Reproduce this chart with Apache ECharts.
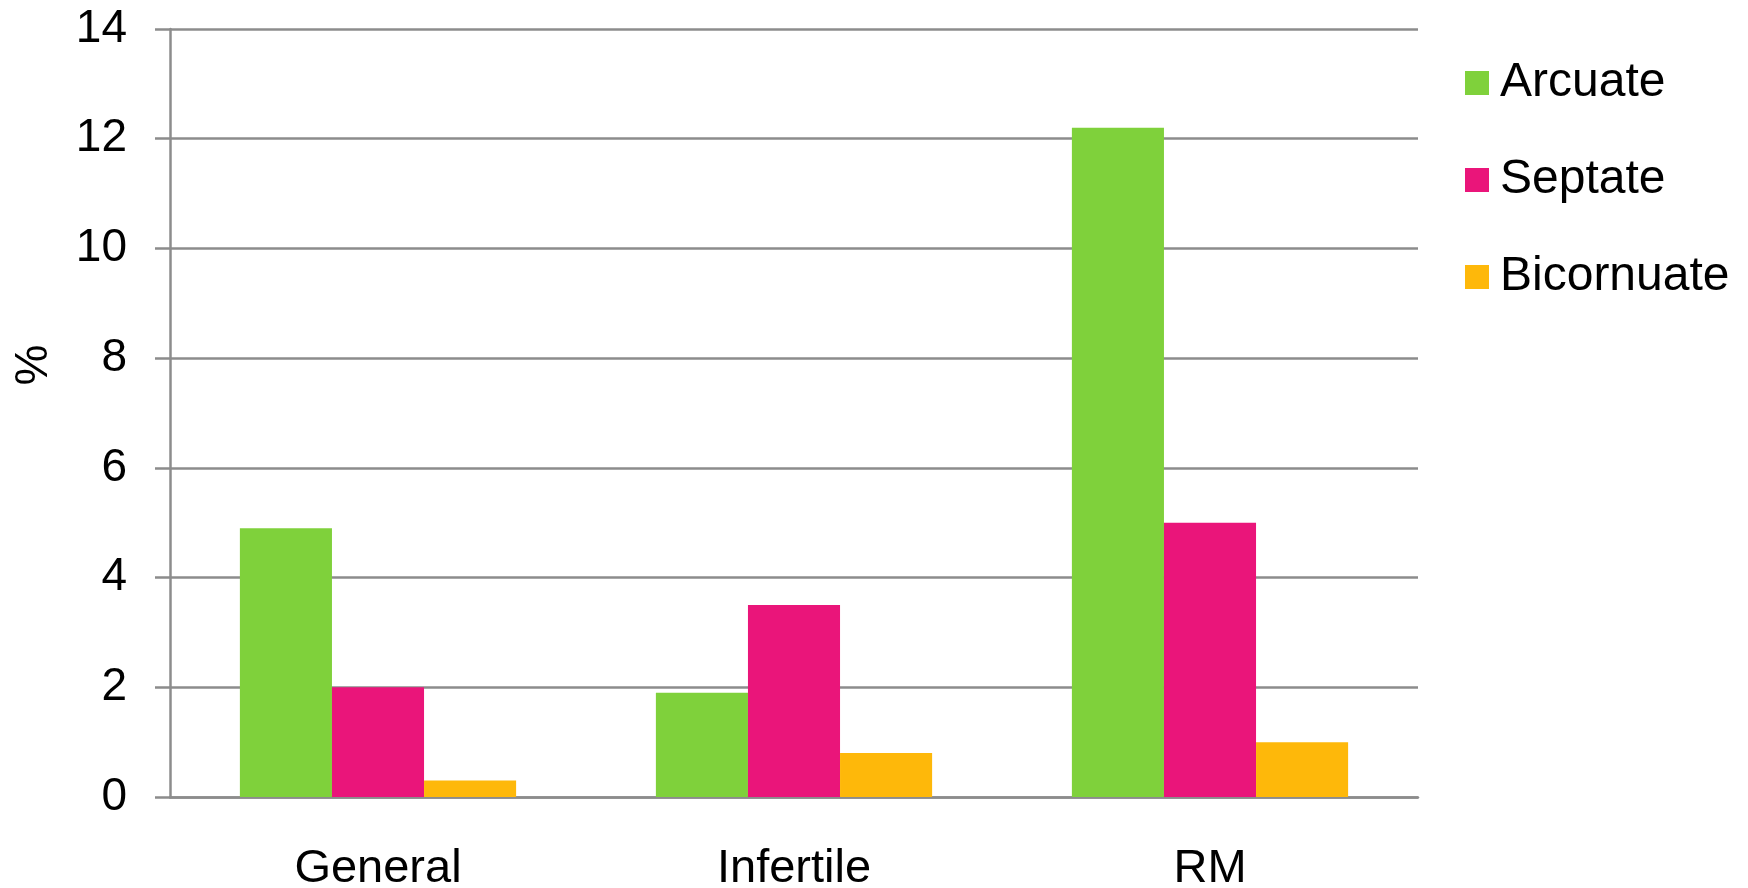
<!DOCTYPE html>
<html>
<head>
<meta charset="utf-8">
<script src="https://cdn.jsdelivr.net/npm/echarts@6/dist/echarts.min.js"></script>
<style>
  html, body { margin: 0; padding: 0; background: #fff; }
  #chart { width: 1748px; height: 888px; }
</style>
</head>
<body>
<div id="chart"></div>
<script>
// Prevalence of uterine anomalies by population group (%)
const categories = ['General', 'Infertile', 'RM'];
const arcuate = [4.9, 1.9, 12.2];
const septate = [2.0, 3.5, 5.0];
const bicornuate = [0.3, 0.8, 1.0];
const yTicks = [0, 2, 4, 6, 8, 10, 12, 14];

const FONT = '"Liberation Sans", Arial, Helvetica, sans-serif';
const GRID_GRAY = '#8c8c8c';

const chart = echarts.init(document.getElementById('chart'), null, { renderer: 'canvas' });

const barSeries = (name, data, color) => ({
  name: name,
  type: 'bar',
  data: data,
  barGap: '0%',
  barCategoryGap: '33.6%',
  itemStyle: { color: color },
  emphasis: { disabled: true }
});

chart.setOption({
  animation: false,
  backgroundColor: '#ffffff',
  textStyle: { fontFamily: FONT },
  grid: {
    left: 170, right: 330, top: 29, bottom: 91,
    containLabel: false,
    outerBoundsMode: 'none'
  },
  legend: {
    orient: 'vertical',
    left: 1465,
    top: 58,
    padding: 0,
    itemWidth: 24,
    itemHeight: 24,
    itemGap: 47,
    icon: 'rect',
    selectedMode: false,
    data: ['Arcuate', 'Septate', 'Bicornuate'],
    textStyle: {
      fontFamily: FONT,
      fontSize: 48,
      color: '#000',
      lineHeight: 50,
      padding: [0, 0, 0, 6]
    }
  },
  xAxis: {
    type: 'category',
    data: categories,
    axisLine: { show: true, lineStyle: { color: GRID_GRAY, width: 2.5 } },
    axisTick: { show: false },
    axisLabel: { fontFamily: FONT, fontSize: 47, color: '#000', margin: 49 },
    splitLine: { show: false }
  },
  yAxis: {
    type: 'value',
    min: yTicks[0],
    max: yTicks[yTicks.length - 1],
    interval: 2,
    axisLine: { show: true, lineStyle: { color: GRID_GRAY, width: 2.5 } },
    axisTick: { show: true, length: 15, lineStyle: { color: GRID_GRAY, width: 2.5 } },
    axisLabel: { fontFamily: FONT, fontSize: 46, color: '#000', margin: 43 },
    splitLine: { show: true, lineStyle: { color: GRID_GRAY, width: 2.5 } }
  },
  graphic: [{
    type: 'text',
    x: 34,
    y: 365,
    rotation: Math.PI / 2,
    style: {
      text: '%',
      fontFamily: FONT,
      fontSize: 46,
      fill: '#000',
      align: 'center',
      verticalAlign: 'middle'
    }
  }],
  series: [
    barSeries('Arcuate', arcuate, '#7fd13b'),
    barSeries('Septate', septate, '#ea157a'),
    barSeries('Bicornuate', bicornuate, '#feb80a')
  ]
});
</script>
</body>
</html>
